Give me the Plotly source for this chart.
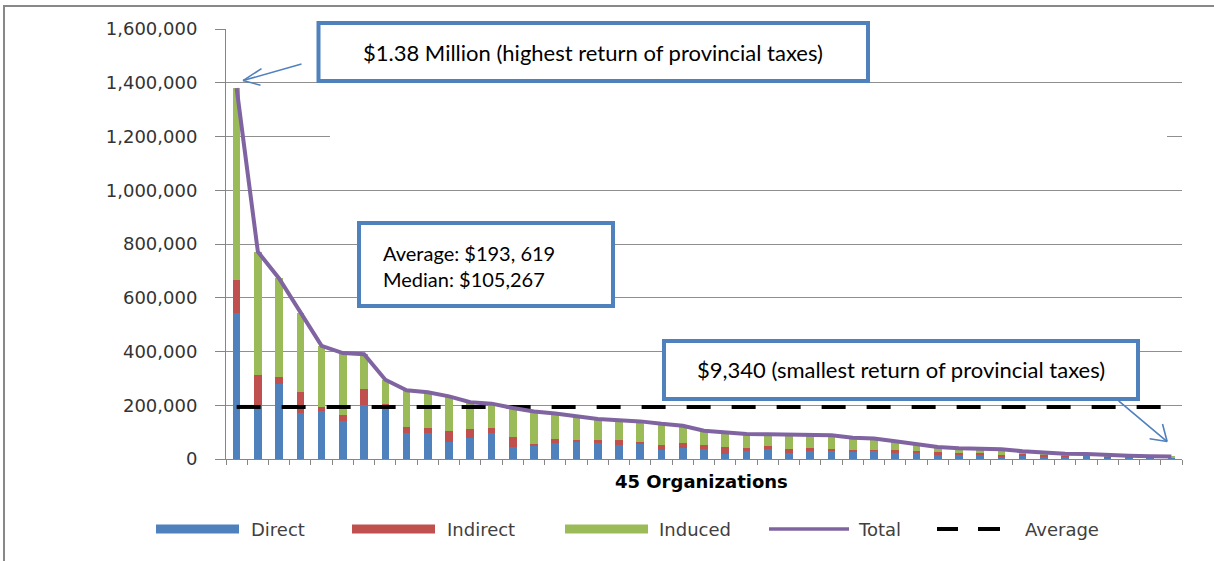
import plotly.graph_objects as go

# ---------------- data ----------------
organizations = list(range(1, 46))
direct = [545000, 200000, 280000, 171000, 179000, 142000, 200000, 200000, 96000, 96000,
          64000, 80000, 98000, 44000, 51000, 60000, 65000, 60000, 53000, 56000,
          32000, 40000, 38000, 17000, 33000, 39000, 23000, 33000, 33000, 29000,
          32000, 23000, 23000, 14000, 14000, 14000, 10000, 14000, 10000, 10000,
          15000, 7000, 8000, 7000, 5000]
indirect = [120000, 113000, 24000, 77000, 15000, 21000, 59000, 6000, 22000, 20000,
            39000, 31000, 16000, 39000, 6000, 16000, 7000, 12000, 16000, 9000,
            21000, 18000, 15000, 28000, 7000, 9000, 16000, 7000, 6000, 4000,
            3000, 10000, 6000, 11000, 9000, 9000, 4000, 3000, 4000, 4000,
            1000, 1000, 1000, 1000, 2000]
induced = [715000, 458000, 368000, 295000, 227000, 231000, 131000, 89000, 138000, 132000,
           130000, 100000, 92000, 107000, 120000, 93000, 87000, 77000, 75000, 75000,
           78000, 66000, 52267, 55000, 53000, 44000, 52000, 50000, 49000, 46000,
           41000, 33000, 27000, 20000, 17000, 15000, 22000, 12000, 9000, 6000,
           3000, 6000, 3000, 2000, 2340]
total = [d + i + n for d, i, n in zip(direct, indirect, induced)]
average_value = 193619
average = [average_value] * len(organizations)
y_ticks = [0, 200000, 400000, 600000, 800000, 1000000, 1200000, 1400000, 1600000]
x_title = "45 Organizations"
note_high = "$1.38 Million (highest return of provincial taxes)"
note_stats = "Average: $193, 619<br>Median: $105,267"
note_low = "$9,340 (smallest return of provincial taxes)"
legend_names = ["Direct", "Indirect", "Induced", "Total", "Average"]

# ---------------- colours ----------------
C_DIRECT = "#4F81BD"
C_INDIRECT = "#C0504D"
C_INDUCED = "#9BBB59"
C_TOTAL = "#8064A2"
C_BOX = "#4F81BD"
C_GRID = "#8f8f8f"
C_AXIS = "#868686"

# ---------------- geometry helpers ----------------
W, H = 1214, 561
L, R, T, B = 226, 32, 29, 102
PW, PH = W - L - R, H - T - B


def px(x):
    return (x - L) / PW


def py(y):
    return (H - B - y) / PH


fig = go.Figure()
fig.add_trace(go.Bar(x=organizations, y=direct, name="Direct", marker_color=C_DIRECT,
                     marker_line_width=0))
fig.add_trace(go.Bar(x=organizations, y=indirect, name="Indirect", marker_color=C_INDIRECT,
                     marker_line_width=0))
fig.add_trace(go.Bar(x=organizations, y=induced, name="Induced", marker_color=C_INDUCED,
                     marker_line_width=0))
fig.add_trace(go.Scatter(x=organizations, y=average, name="Average", mode="lines",
                         line=dict(color="black", width=4, dash="24px,21px")))
fig.add_trace(go.Scatter(x=organizations, y=total, name="Total", mode="lines",
                         line=dict(color=C_TOTAL, width=4)))

shapes = []
annotations = []

# outer frame (only top and left edges visible)
shapes.append(dict(type="rect", xref="paper", yref="paper",
                   x0=px(4), x1=px(W + 20), y0=py(6), y1=py(H + 20),
                   line=dict(color="#888888", width=2), fillcolor="rgba(0,0,0,0)", layer="above"))

# white patch hiding part of the 1,200,000 gridline (as in reference)
shapes.append(dict(type="rect", xref="paper", yref="paper",
                   x0=px(330), x1=px(1167), y0=py(131), y1=py(142),
                   line=dict(width=0), fillcolor="white", layer="above"))

# annotation boxes
for (x0, x1, y0, y1) in [(318.5, 868, 23, 81), (359, 613, 223, 306), (664, 1138, 341, 399)]:
    shapes.append(dict(type="rect", xref="paper", yref="paper",
                       x0=px(x0), x1=px(x1), y0=py(y0), y1=py(y1),
                       line=dict(color=C_BOX, width=4), fillcolor="white", layer="above"))

TEXT_FONT = dict(family="Lato, Carlito, sans-serif", size=22, color="black")
STATS_FONT = dict(family="Lato, Carlito, sans-serif", size=20, color="black")
annotations.append(dict(xref="paper", yref="paper", x=px(593), y=py(52), text=note_high,
                        showarrow=False, xanchor="center", yanchor="middle", font=TEXT_FONT))
annotations.append(dict(xref="paper", yref="paper", x=px(381), y=py(266), text=note_stats,
                        showarrow=False, xanchor="left", yanchor="middle", align="left",
                        font=STATS_FONT))
annotations.append(dict(xref="paper", yref="paper", x=px(901), y=py(369), text=note_low,
                        showarrow=False, xanchor="center", yanchor="middle", font=TEXT_FONT))


# arrows (shaft + open V head), tips given in data coordinates
def arrow(xt, yt, shaft, arms):
    for (ax, ay) in [shaft] + arms:
        annotations.append(dict(x=xt, y=yt, xref="x", yref="y", ax=ax, ay=ay,
                                axref="pixel", ayref="pixel", text="", showarrow=True,
                                arrowhead=0, arrowwidth=1.6, arrowcolor=C_BOX,
                                standoff=0, startstandoff=0))


arrow(1.3, 1408000, (60, -17), [(20, -13), (19, 5)])
arrow(44.8, 65000, (-50, -42), [(-19, -3), (-5, -19)])

# x-axis title
annotations.append(dict(xref="paper", yref="paper", x=px(701), y=py(481), text="<b>%s</b>" % x_title,
                        showarrow=False, xanchor="center", yanchor="middle",
                        font=dict(family="DejaVu Sans", size=18, color="black")))

# custom legend
LEG_Y = 529
LEG_FONT = dict(family="DejaVu Sans", size=18, color="#404040")
for (x0, x1, col, tx, name) in [(156, 239, C_DIRECT, 249, legend_names[0]),
                                (352, 435, C_INDIRECT, 445, legend_names[1]),
                                (565, 648, C_INDUCED, 657, legend_names[2])]:
    shapes.append(dict(type="rect", xref="paper", yref="paper",
                       x0=px(x0), x1=px(x1), y0=py(LEG_Y - 4.5), y1=py(LEG_Y + 4.5),
                       line=dict(width=0), fillcolor=col))
    annotations.append(dict(xref="paper", yref="paper", x=px(tx), y=py(LEG_Y), text=name,
                            showarrow=False, xanchor="left", yanchor="middle", font=LEG_FONT))
shapes.append(dict(type="line", xref="paper", yref="paper", x0=px(769), x1=px(849),
                   y0=py(LEG_Y), y1=py(LEG_Y), line=dict(color=C_TOTAL, width=3.5)))
annotations.append(dict(xref="paper", yref="paper", x=px(856), y=py(LEG_Y), text=legend_names[3],
                        showarrow=False, xanchor="left", yanchor="middle", font=LEG_FONT))
for (x0, x1) in [(937, 958), (978, 1000)]:
    shapes.append(dict(type="line", xref="paper", yref="paper", x0=px(x0), x1=px(x1),
                       y0=py(LEG_Y), y1=py(LEG_Y), line=dict(color="black", width=4)))
annotations.append(dict(xref="paper", yref="paper", x=px(1023), y=py(LEG_Y), text=legend_names[4],
                        showarrow=False, xanchor="left", yanchor="middle", font=LEG_FONT))

fig.update_layout(
    width=W, height=H,
    margin=dict(l=L, r=R, t=T, b=B, pad=0),
    barmode="stack", bargap=0.64,
    plot_bgcolor="white", paper_bgcolor="white",
    showlegend=False,
    shapes=shapes, annotations=annotations,
    xaxis=dict(range=[0.5, 45.5], tickmode="array",
               tickvals=[k + 0.5 for k in range(0, 46)],
               showticklabels=False, ticks="outside", ticklen=5, tickcolor=C_AXIS,
               showline=True, linecolor=C_AXIS, linewidth=1, showgrid=False, zeroline=False),
    yaxis=dict(range=[0, 1600000], tickmode="array", tickvals=y_ticks, tickformat=",d",
               ticks="outside", ticklen=10, tickcolor=C_AXIS, ticklabelstandoff=14,
               showline=True, linecolor=C_AXIS, linewidth=1,
               showgrid=True, gridcolor=C_GRID, gridwidth=1, zeroline=False,
               tickfont=dict(family="DejaVu Sans", size=18, color="#333333")),
)

fig.write_html("out.html", config={"displayModeBar": False},
               post_script="document.body.style.margin='0';")
